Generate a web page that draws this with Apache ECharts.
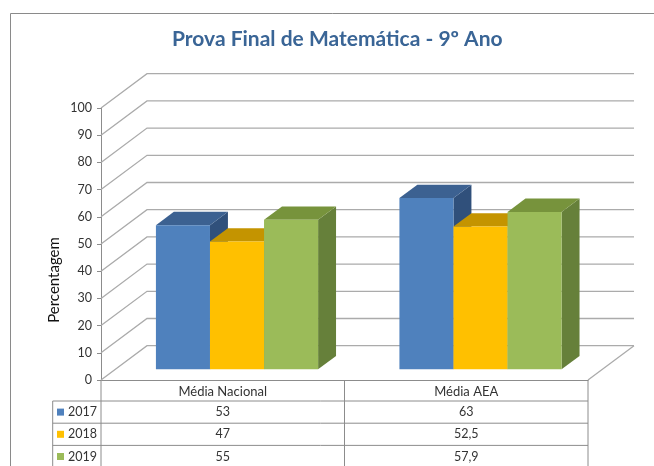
<!DOCTYPE html>
<html>
<head>
<meta charset="utf-8">
<script src="https://cdn.jsdelivr.net/npm/echarts@6/dist/echarts.min.js"></script>
<style>
  html, body { margin: 0; padding: 0; background: #fff; }
  #chart { width: 654px; height: 466px; }
</style>
</head>
<body>
<div id="chart"></div>
<script>
// dados do gráfico
const categories = ['Média Nacional', 'Média AEA'];
const years = ['2017', '2018', '2019'];
const values2017 = [53, 63];
const values2018 = [47, 52.5];
const values2019 = [55, 57.9];
const yTicks = [0, 10, 20, 30, 40, 50, 60, 70, 80, 90, 100];

const seriesValues = [values2017, values2018, values2019];
const frontColors = ['#4F81BD', '#FFC000', '#9BBB59'];
const topColors = ['#3C6191', '#C49400', '#77933C'];
const sideColors = ['#30507B', '#A67D00', '#66803A'];

// grelha (plano da frente) e profundidade da caixa 3D
const GRID_LEFT = 101, GRID_RIGHT = 66, GRID_TOP = 108, GRID_BOTTOM = 86;
const DX = 46, DY = -34.3;
const BAR_FRONT = 0.31, BAR_DEPTH = 0.39, BAR_SHARE = 0.222;
const FONT = 'Lato';
const WALL = '#ABABAB';
const TABLE = '#8C8C8C';
const TEXT = '#333';

const chartDom = document.getElementById('chart');
const myChart = echarts.init(chartDom);

// paredes e chão (linhas de grelha em perspetiva)
function wallItem(params, api) {
  const cs = params.coordSys;
  const y = api.coord([0, api.value(1)])[1];
  const x0 = cs.x, x1 = cs.x + cs.width;
  const children = [{
    type: 'polyline',
    shape: { points: [[x0, y], [x0 + DX, y + DY], [x1 + DX, y + DY]] },
    style: { stroke: WALL, lineWidth: 1.3, fill: null }
  }];
  if (api.value(1) === 0) {
    children.push({
      type: 'line',
      shape: { x1: x1, y1: y, x2: x1 + DX, y2: y + DY },
      style: { stroke: WALL, lineWidth: 1.3 }
    });
  }
  return { type: 'group', children: children };
}

// barra 3D: frente, topo e lado
function barItem(k) {
  return function (params, api) {
    const idx = api.value(0);
    const base = api.coord([idx, 0]);
    const topY = api.coord([idx, api.value(1)])[1];
    const band = api.size([1, 0])[0];
    const bw = band * BAR_SHARE;
    const ox = DX * BAR_FRONT, oy = DY * BAR_FRONT;
    const dx = DX * BAR_DEPTH, dy = DY * BAR_DEPTH;
    const x0 = base[0] - 1.5 * bw + k * bw + ox;
    const x1 = x0 + bw;
    const y0 = base[1] + oy, y1 = topY + oy;
    return {
      type: 'group',
      children: [
        { type: 'polygon', shape: { points: [[x1, y0], [x1 + dx, y0 + dy], [x1 + dx, y1 + dy], [x1, y1]] }, style: { fill: sideColors[k] } },
        { type: 'polygon', shape: { points: [[x0, y1], [x1, y1], [x1 + dx, y1 + dy], [x0 + dx, y1 + dy]] }, style: { fill: topColors[k] } },
        { type: 'rect', shape: { x: x0, y: y1, width: bw, height: y0 - y1 }, style: { fill: frontColors[k] } }
      ]
    };
  };
}

// tabela de dados por baixo do gráfico
function tableGraphics() {
  const left = GRID_LEFT, right = 654 - GRID_RIGHT;
  const mid = (left + right) / 2;
  const keyLeft = 52.7;
  const top = 466 - GRID_BOTTOM;
  const rowH = 22.2;
  const headB = top + 21;
  const els = [];
  const line = (x1, y1, x2, y2) => els.push({
    type: 'line', shape: { x1: x1, y1: y1, x2: x2, y2: y2 },
    style: { stroke: TABLE, lineWidth: 1 }, silent: true
  });
  [left, mid, right].forEach(x => line(x, top, x, 470));
  line(keyLeft, headB, keyLeft, 470);
  for (let r = 0; r < years.length; r++) {
    const y = headB + r * rowH;
    line(keyLeft, y, right, y);
    const cy = y + rowH / 2;
    els.push({ type: 'rect', shape: { x: 57, y: cy - 3.5, width: 7, height: 7 }, style: { fill: frontColors[r] } });
    els.push({ type: 'text', x: 68, y: cy, style: { text: years[r], font: '12.5px ' + FONT, fill: TEXT, verticalAlign: 'middle' } });
    seriesValues[r].forEach((v, c) => {
      const cx = left + (c + 0.5) * (right - left) / categories.length;
      els.push({ type: 'text', x: cx, y: cy, style: { text: String(v).replace('.', ','), font: '12.5px ' + FONT, fill: TEXT, align: 'center', verticalAlign: 'middle' } });
    });
  }
  // moldura do gráfico
  els.push({ type: 'rect', shape: { x: 10.5, y: 13.5, width: 700, height: 500 }, style: { fill: null, stroke: '#8A8A8A', lineWidth: 1 }, silent: true });
  // título do eixo
  els.push({ type: 'text', x: 54, y: 280, rotation: Math.PI / 2, style: { text: 'Percentagem', font: '15px ' + FONT, fill: '#111', align: 'center', verticalAlign: 'middle' } });
  return els;
}

const option = {
  animation: false,
  title: {
    text: 'Prova Final de Matemática - 9º Ano',
    left: 167,
    top: 24,
    textStyle: { fontFamily: FONT, fontSize: 21, fontWeight: 'bold', color: '#3A6596' }
  },
  grid: { left: GRID_LEFT, right: GRID_RIGHT, top: GRID_TOP, bottom: GRID_BOTTOM, containLabel: false },
  xAxis: {
    type: 'category',
    data: categories,
    axisLine: { show: true, lineStyle: { color: TABLE, width: 1 } },
    axisTick: { show: false },
    axisLabel: { margin: 5, fontFamily: FONT, fontSize: 13, color: TEXT, interval: 0 },
    splitLine: { show: false }
  },
  yAxis: {
    type: 'value',
    min: 0,
    max: 100,
    interval: 10,
    axisLine: { show: true, lineStyle: { color: '#8C8C8C', width: 1 } },
    axisTick: { show: true, length: 4, lineStyle: { color: '#8C8C8C' } },
    axisLabel: { margin: 9, fontFamily: FONT, fontSize: 12.5, color: TEXT },
    splitLine: { show: false }
  },
  graphic: tableGraphics(),
  series: [
    {
      type: 'custom',
      name: 'grelha',
      z: 1,
      silent: true,
      renderItem: wallItem,
      data: yTicks.map(v => [0, v])
    }
  ].concat(years.map((yr, k) => ({
    type: 'custom',
    name: yr,
    z: 2 + k,
    renderItem: barItem(k),
    data: seriesValues[k].map((v, i) => [i, v])
  })))
};

option && myChart.setOption(option);
</script>
</body>
</html>
